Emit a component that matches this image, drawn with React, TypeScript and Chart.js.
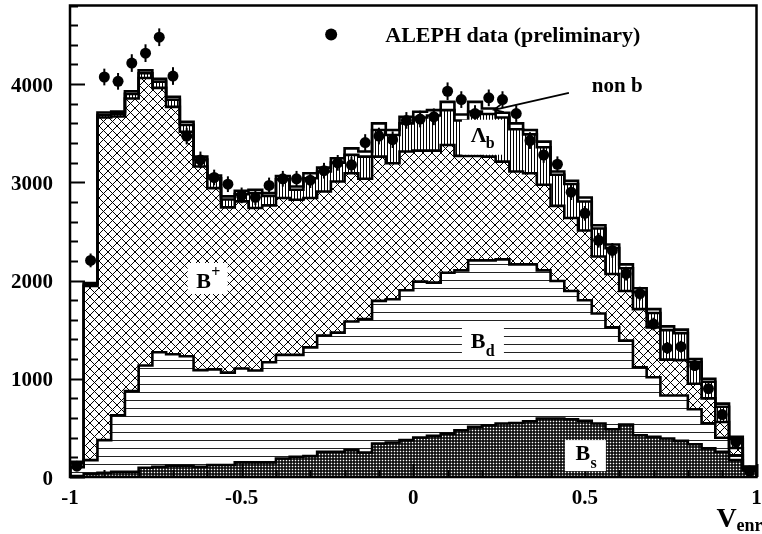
import React, { useEffect, useRef } from 'react';
import { Chart, registerables } from 'chart.js';

Chart.register(...registerables);

// Histogram binning of V_enr: 50 bins from -1 to 1
const BIN_MIN = -1;
const BIN_WIDTH = 0.04;
const N_BINS = 50;
const Y_MAX = 4800;

// ALEPH data points (entries per bin) and their errors
const dataCounts = [110, 2205, 4072, 4028, 4214, 4315, 4477, 4082, 3471, 3228, 3049, 2981, 2867, 2847, 2968, 3036, 3036, 3022, 3118, 3198, 3178, 3405, 3471, 3434, 3630, 3644, 3667, 3927, 3842, 3700, 3860, 3842, 3700, 3425, 3278, 3184, 2900, 2684, 2410, 2307, 2070, 1867, 1557, 1314, 1327, 1135, 899, 635, 358, 60];
const dataErrors = [30, 70, 85, 85, 90, 90, 90, 90, 85, 85, 80, 80, 80, 80, 80, 80, 80, 80, 80, 80, 80, 85, 85, 85, 85, 85, 85, 90, 85, 85, 85, 85, 85, 85, 80, 80, 80, 75, 75, 75, 70, 70, 65, 60, 60, 55, 50, 45, 40, 30];

// Monte Carlo components (entries per bin, stacked bottom to top)
const bsCounts = [10, 30, 44, 54, 54, 94, 104, 115, 115, 104, 122, 122, 149, 149, 149, 189, 206, 213, 257, 257, 274, 250, 341, 351, 375, 402, 419, 442, 476, 510, 527, 544, 550, 567, 595, 595, 588, 571, 544, 486, 534, 425, 408, 392, 368, 334, 291, 257, 172, 70];
const bdCounts = [90, 142, 331, 574, 820, 1041, 1166, 1135, 1115, 984, 974, 941, 955, 935, 1019, 1054, 1037, 1107, 1183, 1213, 1309, 1357, 1452, 1459, 1526, 1587, 1560, 1638, 1628, 1695, 1678, 1671, 1615, 1598, 1509, 1401, 1306, 1229, 1120, 1037, 854, 692, 608, 438, 462, 356, 256, 143, 48, 18];
const bplusCounts = [40, 1773, 3285, 3042, 2979, 2927, 2691, 2518, 2285, 2073, 1845, 1682, 1702, 1654, 1597, 1597, 1580, 1520, 1467, 1539, 1510, 1429, 1469, 1384, 1412, 1334, 1344, 1300, 1165, 1064, 1057, 996, 945, 928, 871, 764, 743, 709, 581, 543, 506, 592, 507, 365, 360, 260, 253, 160, 75, 10];
const lambdaBCounts = [8, 15, 25, 25, 47, 48, 64, 72, 70, 71, 99, 80, 74, 152, 95, 190, 102, 202, 203, 191, 186, 226, 270, 288, 287, 337, 357, 355, 361, 451, 433, 449, 430, 395, 382, 317, 346, 296, 285, 264, 231, 176, 147, 300, 275, 220, 170, 155, 90, 4];
const nonBCounts = [7, 15, 25, 25, 27, 30, 30, 30, 31, 30, 29, 32, 34, 34, 30, 35, 33, 51, 40, 45, 67, 51, 68, 50, 67, 58, 55, 84, 61, 99, 57, 48, 60, 44, 57, 33, 33, 41, 33, 37, 40, 37, 39, 38, 35, 32, 30, 32, 23, 4];

// Axis ticks
const xTickValues = [-1, -0.5, 0, 0.5, 1];
const xTickLabels = ['-1', '-0.5', '0', '0.5', '1'];
const xMinorStep = 0.1;
const yTickValues = [0, 1000, 2000, 3000, 4000];
const yTickLabels = ['0', '1000', '2000', '3000', '4000'];
const yMinorStep = 200;

const FONT = '"Liberation Serif", "Times New Roman", serif';

function cumulative(...layers: number[][]): number[] {
  return layers[0].map((_, i) => layers.reduce((s, l) => s + l[i], 0));
}

function stepPoints(vals: number[]) {
  const pts: { x: number; y: number }[] = [{ x: BIN_MIN, y: 0 }];
  vals.forEach((v, i) => pts.push({ x: BIN_MIN + i * BIN_WIDTH, y: v }));
  const xEnd = BIN_MIN + N_BINS * BIN_WIDTH;
  pts.push({ x: xEnd, y: vals[vals.length - 1] });
  pts.push({ x: xEnd, y: 0 });
  return pts;
}

function makePattern(w: number, h: number, paint: (x: number, y: number) => string | null) {
  const c = document.createElement('canvas');
  c.width = w;
  c.height = h;
  const g = c.getContext('2d')!;
  g.fillStyle = '#fff';
  g.fillRect(0, 0, w, h);
  for (let yy = 0; yy < h; yy++) {
    for (let xx = 0; xx < w; xx++) {
      const col = paint(xx, yy);
      if (col) {
        g.fillStyle = col;
        g.fillRect(xx, yy, 1, 1);
      }
    }
  }
  return g.createPattern(c, 'repeat')!;
}

function drawLabelBox(ctx: CanvasRenderingContext2D, cx: number, cy: number, w: number, h: number,
  main: string, mainDx: number, mainDy: number, small: string, smallDx: number, smallDy: number) {
  ctx.fillStyle = '#fff';
  ctx.fillRect(cx - w / 2, cy - h / 2, w, h);
  ctx.fillStyle = '#000';
  ctx.textAlign = 'left';
  ctx.textBaseline = 'alphabetic';
  ctx.font = `bold 22px ${FONT}`;
  ctx.fillText(main, cx + mainDx, cy + mainDy);
  ctx.font = `bold 16px ${FONT}`;
  ctx.fillText(small, cx + smallDx, cy + smallDy);
}

const decorPlugin = {
  id: 'decor',
  afterDatasetsDraw(chart: any) {
    const { ctx, chartArea: a, scales } = chart;
    const xs = scales.x;
    const ys = scales.y;
    ctx.save();

    // error bars
    ctx.strokeStyle = '#000';
    ctx.lineWidth = 2;
    dataCounts.forEach((v, i) => {
      const px = xs.getPixelForValue(BIN_MIN + (i + 0.5) * BIN_WIDTH);
      ctx.beginPath();
      ctx.moveTo(px, ys.getPixelForValue(v - dataErrors[i]));
      ctx.lineTo(px, ys.getPixelForValue(v + dataErrors[i]));
      ctx.stroke();
    });

    // inward ticks
    ctx.lineWidth = 2;
    ctx.beginPath();
    for (let v = 0; v <= Y_MAX + 1e-6; v += yMinorStep) {
      const py = Math.round(ys.getPixelForValue(v)) + 0.5;
      const major = Math.abs(v / 1000 - Math.round(v / 1000)) < 1e-6;
      ctx.moveTo(a.left, py);
      ctx.lineTo(a.left + (major ? 15 : 8), py);
    }
    for (let k = 0; k <= 20; k++) {
      const v = -1 + k * xMinorStep;
      const px = Math.round(xs.getPixelForValue(v)) + 0.5;
      const major = k % 5 === 0;
      ctx.moveTo(px, a.bottom);
      ctx.lineTo(px, a.bottom - (major ? 13 : 7));
    }
    ctx.stroke();

    // component labels
    drawLabelBox(ctx, xs.getPixelForValue(-0.599), ys.getPixelForValue(2021), 40, 31, 'B', -11.3, 9.2, '+', 3.7, -1.5);
    drawLabelBox(ctx, xs.getPixelForValue(0.203), ys.getPixelForValue(3459), 42, 35, '\u039B', -12.3, 4.5, 'b', 2.7, 11.2);
    drawLabelBox(ctx, xs.getPixelForValue(0.203), ys.getPixelForValue(1368), 42, 32, 'B', -12.3, 5.7, 'd', 2.7, 13);
    drawLabelBox(ctx, xs.getPixelForValue(0.5015), ys.getPixelForValue(218), 41, 31, 'B', -9.8, 4.5, 's', 5.2, 12.5);

    // non b arrow
    const ax0 = xs.getPixelForValue(0.4535), ay0 = ys.getPixelForValue(3910);
    const ax1 = xs.getPixelForValue(0.2355), ay1 = ys.getPixelForValue(3738);
    ctx.strokeStyle = '#000';
    ctx.lineWidth = 1.8;
    ctx.beginPath();
    ctx.moveTo(ax0, ay0);
    ctx.lineTo(ax1, ay1);
    const ang = Math.atan2(ay0 - ay1, ax0 - ax1);
    const hl = 10;
    ctx.moveTo(ax1 + hl * Math.cos(ang + 0.45), ay1 + hl * Math.sin(ang + 0.45));
    ctx.lineTo(ax1, ay1);
    ctx.lineTo(ax1 + hl * Math.cos(ang - 0.45), ay1 + hl * Math.sin(ang - 0.45));
    ctx.stroke();
    ctx.fillStyle = '#000';
    ctx.font = `bold 21px ${FONT}`;
    ctx.textAlign = 'left';
    ctx.textBaseline = 'alphabetic';
    ctx.fillText('non b', xs.getPixelForValue(0.5203), ys.getPixelForValue(3920));

    // legend
    ctx.beginPath();
    ctx.arc(xs.getPixelForValue(-0.2392), ys.getPixelForValue(4505), 6, 0, Math.PI * 2);
    ctx.fill();
    ctx.font = `bold 22px ${FONT}`;
    ctx.fillText('ALEPH data (preliminary)', xs.getPixelForValue(-0.0814), ys.getPixelForValue(4427));

    // frame
    ctx.lineWidth = 2.5;
    ctx.strokeRect(a.left, a.top, a.right - a.left, a.bottom - a.top);

    // tick labels
    ctx.font = `bold 21px ${FONT}`;
    ctx.textAlign = 'right';
    yTickValues.forEach((v, i) => {
      ctx.fillText(yTickLabels[i], a.left - 17, ys.getPixelForValue(v) + 7.5);
    });
    ctx.textAlign = 'center';
    xTickValues.forEach((v, i) => {
      ctx.fillText(xTickLabels[i], xs.getPixelForValue(v), a.bottom + 27);
    });

    // axis title V_enr
    ctx.textAlign = 'left';
    ctx.font = `bold 28px ${FONT}`;
    ctx.fillText('V', a.right - 40, a.bottom + 50);
    ctx.font = `bold 18px ${FONT}`;
    ctx.fillText('enr', a.right - 20, a.bottom + 54);

    ctx.restore();
  },
};

export default function App() {
  const canvasRef = useRef<HTMLCanvasElement | null>(null);

  useEffect(() => {
    const canvas = canvasRef.current;
    if (!canvas) return;

    const patBs = makePattern(3, 3, (x, y) => (x === 1 && y === 1 ? '#fff' : (x + y) % 2 === 0 ? '#111' : '#444'));
    const patBd = makePattern(1, 8, (_x, y) => (y === 0 ? '#222' : null));
    const patBplus = makePattern(9, 9, (x, y) => (x === y || x + y === 8 ? '#000' : null));
    const patLb = makePattern(3, 1, (x) => (x === 0 ? '#000' : null));

    const topBs = cumulative(bsCounts);
    const topBd = cumulative(bsCounts, bdCounts);
    const topBplus = cumulative(bsCounts, bdCounts, bplusCounts);
    const topLb = cumulative(bsCounts, bdCounts, bplusCounts, lambdaBCounts);
    const topAll = cumulative(bsCounts, bdCounts, bplusCounts, lambdaBCounts, nonBCounts);

    const layer = (label: string, vals: number[], bg: any, order: number) => ({
      label,
      data: stepPoints(vals),
      stepped: true,
      fill: 'origin',
      backgroundColor: bg,
      borderColor: '#000',
      borderWidth: 2.6,
      borderJoinStyle: 'miter',
      borderCapStyle: 'butt',
      pointRadius: 0,
      order,
    });

    const chart = new Chart(canvas, {
      type: 'line',
      data: {
        datasets: [
          {
            label: 'ALEPH data (preliminary)',
            data: dataCounts.map((v, i) => ({ x: BIN_MIN + (i + 0.5) * BIN_WIDTH, y: v })),
            showLine: false,
            pointRadius: 5.5,
            pointBackgroundColor: '#000',
            pointBorderWidth: 0,
            fill: false,
            order: 0,
            clip: false,
          } as any,
          layer('Bs', topBs, patBs, 1),
          layer('Bd', topBd, patBd, 2),
          layer('B+', topBplus, patBplus, 3),
          layer('Lambda_b', topLb, patLb, 4),
          layer('non b', topAll, '#fff', 5),
        ],
      },
      options: {
        animation: false,
        responsive: false,
        events: [],
        layout: { padding: { left: 70, right: 4, top: 3, bottom: 57 } },
        plugins: {
          legend: { display: false },
          tooltip: { enabled: false },
          filler: { drawTime: 'beforeDatasetsDraw' },
        },
        scales: {
          x: { type: 'linear', min: -1, max: 1, display: false },
          y: { type: 'linear', min: 0, max: Y_MAX, display: false },
        },
      } as any,
      plugins: [decorPlugin],
    });

    return () => chart.destroy();
  }, []);

  return (
    <div style={{ position: 'absolute', left: 0, top: 0, width: 762, height: 534, background: '#fff' }}>
      <canvas ref={canvasRef} width={762} height={534} />
    </div>
  );
}
